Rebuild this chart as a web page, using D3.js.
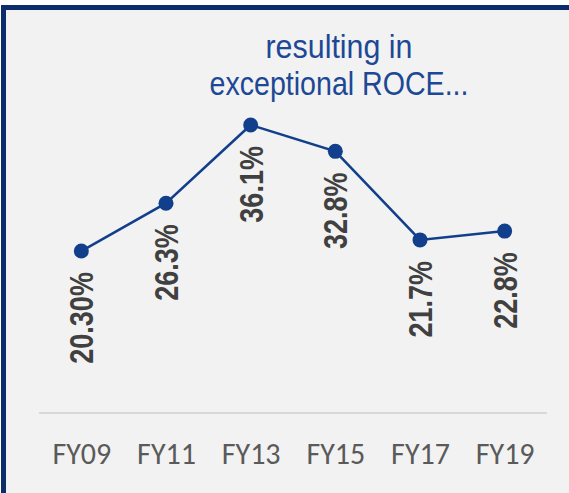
<!doctype html>
<html>
  <head>
    <meta charset="utf-8">
    <title>exceptional ROCE</title>
    <script src="https://cdn.jsdelivr.net/npm/d3@7"></script>
    <style>
    body { margin: 0; background: #ffffff; }
    .title { font-family: "Liberation Sans", Arial, sans-serif; font-size: 33px; fill: #1c4896; }
    .val { font-family: "Liberation Sans", Arial, sans-serif; font-weight: bold; font-size: 33px; fill: #404040; }
    .xlab { font-family: Carlito, Lato, "Open Sans", sans-serif; font-size: 30px; fill: #5a5a5a; }
    </style>
  </head>
  <body>
    <script>
      var w_svg = 569;
      var h_svg = 493;

      // data
      var years = ["FY09", "FY11", "FY13", "FY15", "FY17", "FY19"];
      var roce = [20.3, 26.3, 36.1, 32.8, 21.7, 22.8];
      var roce_labels = ["20.30%", "26.3%", "36.1%", "32.8%", "21.7%", "22.8%"];
      var title_lines = ["resulting in", "exceptional ROCE..."];

      var svg = d3.select("body")
                  .append("svg")
                  .attr("width", w_svg)
                  .attr("height", h_svg);

      // panel with the dark frame on top and left
      svg.append("rect")
         .attr("x", 3.5).attr("y", 7.5)
         .attr("width", 600).attr("height", 600)
         .attr("fill", "#f2f2f2")
         .attr("stroke", "#0c2d6b")
         .attr("stroke-width", 5);

      var x = d3.scalePoint().domain(years).range([39, 547]).padding(0.5);
      var y = d3.scaleLinear().domain([0, 36.1]).range([413, 125]);

      // title (narrow face squeezed to fit its box)
      var title_w = [147, 259];
      svg.selectAll("text.title")
         .data(title_lines)
         .enter().append("text")
         .attr("class", "title")
         .attr("text-anchor", "middle")
         .attr("x", 339)
         .attr("y", function(d, i) { return 58 + i * 37; })
         .attr("textLength", function(d, i) { return title_w[i]; })
         .attr("lengthAdjust", "spacingAndGlyphs")
         .text(function(d) { return d; });

      // baseline + x labels
      var xAxis = d3.axisBottom(x).tickSize(0).tickPadding(0);
      var gx = svg.append("g")
                  .attr("transform", "translate(0," + y(0) + ")")
                  .call(xAxis);
      gx.select(".domain")
        .attr("d", "M39,0H547")
        .attr("stroke", "#d9d9d9")
        .attr("stroke-width", 2);
      gx.selectAll(".tick text")
        .attr("class", "xlab")
        .attr("fill", null)
        .attr("font-family", null)
        .attr("font-size", null)
        .attr("dy", null)
        .attr("y", 51);

      var pts = years.map(function(d, i) { return {year: d, v: roce[i], label: roce_labels[i]}; });

      var line = d3.line()
                   .x(function(d) { return x(d.year); })
                   .y(function(d) { return y(d.v); });

      svg.append("path")
         .datum(pts)
         .attr("d", line)
         .attr("fill", "none")
         .attr("stroke", "#123f8c")
         .attr("stroke-width", 2.5);

      svg.selectAll("circle")
         .data(pts)
         .enter().append("circle")
         .attr("cx", function(d) { return x(d.year); })
         .attr("cy", function(d) { return y(d.v); })
         .attr("r", 7.5)
         .attr("fill", "#123f8c");

      // rotated value labels under each point, squeezed like a narrow face
      svg.selectAll("text.val")
         .data(pts)
         .enter().append("text")
         .attr("class", "val")
         .attr("text-anchor", "end")
         .attr("dy", "0.36em")
         .attr("transform", function(d) {
           return "translate(" + x(d.year) + "," + (y(d.v) + 21) + ") rotate(-90) scale(0.82,1)";
         })
         .text(function(d) { return d.label; });
    </script>
  </body>
</html>
